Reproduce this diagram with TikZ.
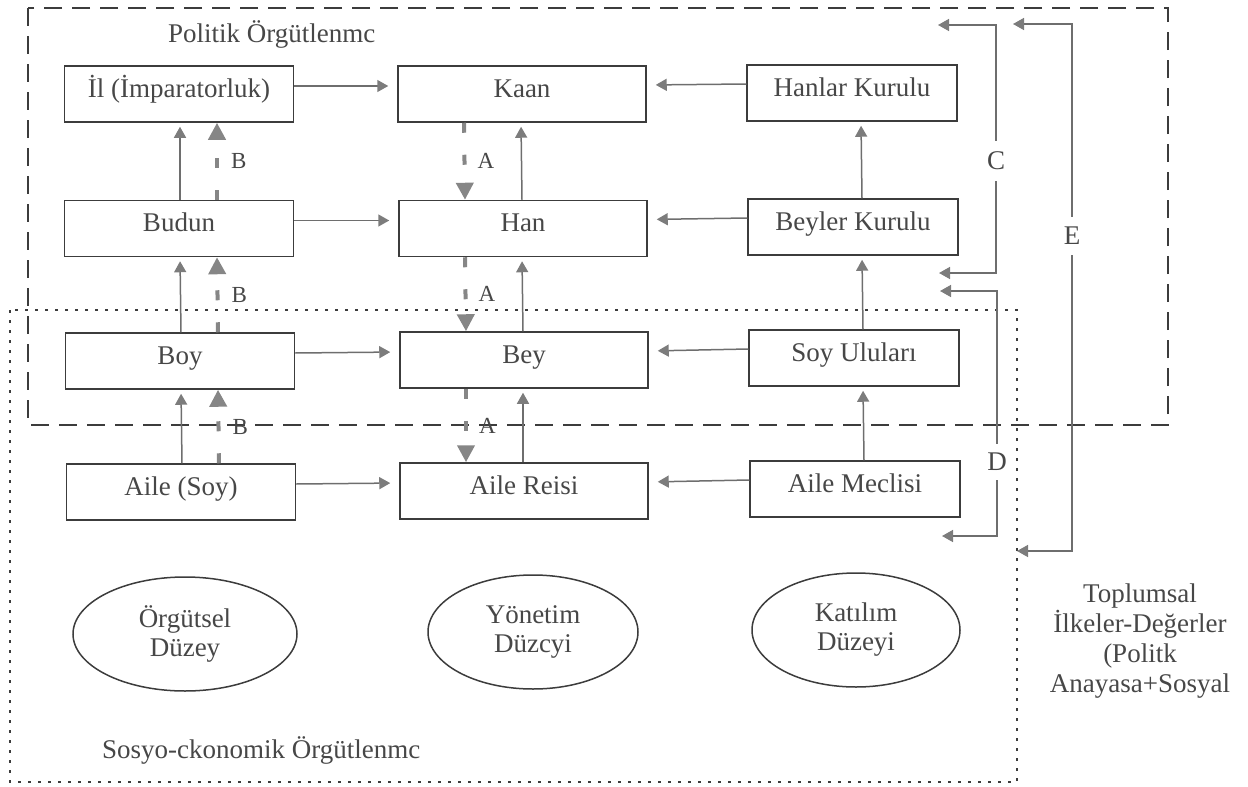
\documentclass[tikz,border=0pt]{standalone}
\usepackage{fontspec}
\setmainfont{Liberation Serif}
\usetikzlibrary{arrows.meta,shapes.geometric}

\definecolor{inkline}{HTML}{3C3C3C}
\definecolor{inktext}{HTML}{474747}
\definecolor{arrowgray}{HTML}{6E6E6E}
\definecolor{headgray}{HTML}{7C7C7C}
\definecolor{dashgray}{HTML}{868686}

\begin{document}
\begin{tikzpicture}[x=1pt,y=-1pt,
  cell/.style={draw=inkline, line width=1.5pt, rectangle, minimum height=56pt,
    inner sep=0pt, text=inktext, font=\fontsize{27}{30}\selectfont,
    text height=18pt, text depth=12pt},
  colA/.style={cell, minimum width=229pt},
  colB/.style={cell, minimum width=248pt},
  colC/.style={cell, minimum width=210pt},
  flow/.style={draw=arrowgray, line width=1.5pt,
    -{Triangle[length=11pt,width=12pt,color=headgray]}},
  hflow/.style={flow, shorten >=9pt},
  vflow/.style={flow, shorten >=4pt},
  dflow/.style={draw=dashgray, line width=4pt, dash pattern=on 10pt off 22pt,
    -{Triangle[length=17pt,width=17pt,color=dashgray]}},
  tag/.style={text=inktext, font=\fontsize{23}{26}\selectfont, inner sep=0pt},
  bracelabel/.style={text=inktext, font=\fontsize{27}{30}\selectfont,
    inner xsep=2pt},
  level/.style={ellipse, draw=inkline, line width=1.5pt, align=center,
    text=inktext, font=\fontsize{27}{29}\selectfont, inner sep=0pt,
    minimum height=114pt},
  caption/.style={text=inktext, font=\fontsize{27}{30}\selectfont, inner sep=0pt},
]
\useasboundingbox (0,0) rectangle (1248,787);

% region frames
\draw[inkline, line width=1.6pt, dash pattern=on 18pt off 10pt]
  (28,8) rectangle (1168,425);
\draw[inkline, line width=1.8pt, dash pattern=on 3pt off 7pt]
  (10,310) rectangle (1017,782);

\node[caption, anchor=base west] (politik) at (168,42) {Politik Örgütlenmc};
\node[caption, anchor=base west] (sosyo) at (102,758) {Sosyo-ckonomik Örgütlenmc};

% organisational column
\node[colA] (il)    at (179,94)    {İl (İmparatorluk)};
\node[colA] (budun) at (179,228.5) {Budun};
\node[colA] (boy)   at (180,361)   {Boy};
\node[colA] (aile)  at (181,492)   {Aile (Soy)};

% leadership column
\node[colB] (kaan)  at (522,94)    {Kaan};
\node[colB] (han)   at (523,228.5) {Han};
\node[colB] (bey)   at (524,360)   {Bey};
\node[colB] (reisi) at (524,491)   {Aile Reisi};

% participation column
\node[colC] (hanlar)  at (852,93)  {Hanlar Kurulu};
\node[colC] (beyler)  at (853,227) {Beyler Kurulu};
\node[colC] (soyulu)  at (854,358) {Soy Uluları};
\node[colC] (meclis)  at (855,489) {Aile Meclisi};

% horizontal links
\foreach \l/\m/\r in {il/kaan/hanlar, budun/han/beyler, boy/bey/soyulu, aile/reisi/meclis}{
  \draw[hflow] ([yshift=8pt]\l.east) -- ([yshift=8pt]\m.west);
  \draw[hflow] ([yshift=9pt]\r.west) -- ([yshift=9pt]\m.east);
}

% vertical links
\foreach \lo/\hi in {budun/il, boy/budun, aile/boy}{
  \draw[vflow] ([xshift=1pt]\lo.north) -- ([xshift=1pt]\hi.south);
  \draw[dflow] ([xshift=38pt]\lo.north) --
    node[tag, anchor=west, xshift=12pt] {B} ([xshift=38pt]\hi.south);
}
\foreach \lo/\hi in {han/kaan, bey/han, reisi/bey}{
  \draw[vflow] ([xshift=-1pt]\lo.north) -- ([xshift=-1pt]\hi.south);
  \draw[dflow] ([xshift=-58pt]\hi.south) --
    node[tag, anchor=west, xshift=11pt] {A} ([xshift=-58pt]\lo.north);
}
\foreach \lo/\hi in {beyler/hanlar, soyulu/beyler, meclis/soyulu}{
  \draw[vflow] ([xshift=9pt]\lo.north) -- ([xshift=9pt]\hi.south);
}

% feedback brackets
\node[bracelabel, inner ysep=11pt] (C) at (996,161) {C};
\node[bracelabel, inner ysep=9pt]  (D) at (997,462) {D};
\node[bracelabel, inner ysep=10pt] (E) at (1072,236) {E};
\coordinate (cTop) at (938,25);
\coordinate (cBot) at (939,273);
\coordinate (dTop) at (940,291);
\coordinate (dBot) at (942,536);
\coordinate (eTop) at (1013,24);
\coordinate (eBot) at (1017,551);
\draw[flow] (C.north) |- (cTop);
\draw[flow] (C.south) |- (cBot);
\draw[flow] (D.north) |- (dTop);
\draw[flow] (D.south) |- (dBot);
\draw[flow] (E.north) |- (eTop);
\draw[flow] (E.south) |- (eBot);

% level ellipses
\node[level, minimum width=224pt] (orgut)  at (185,634) {Örgütsel\\Düzey};
\node[level, minimum width=210pt] (yonet)  at (533,632) {Yönetim\\Düzcyi};
\node[level, minimum width=208pt] (katil)  at (856,630) {Katılım\\Düzeyi};

\node[text=inktext, align=center, inner sep=0pt,
  font=\fontsize{27}{30}\selectfont] (ilkeler) at (1140,641)
  {Toplumsal\\İlkeler-Değerler\\(Politk\\Anayasa+Sosyal};
\end{tikzpicture}
\end{document}
